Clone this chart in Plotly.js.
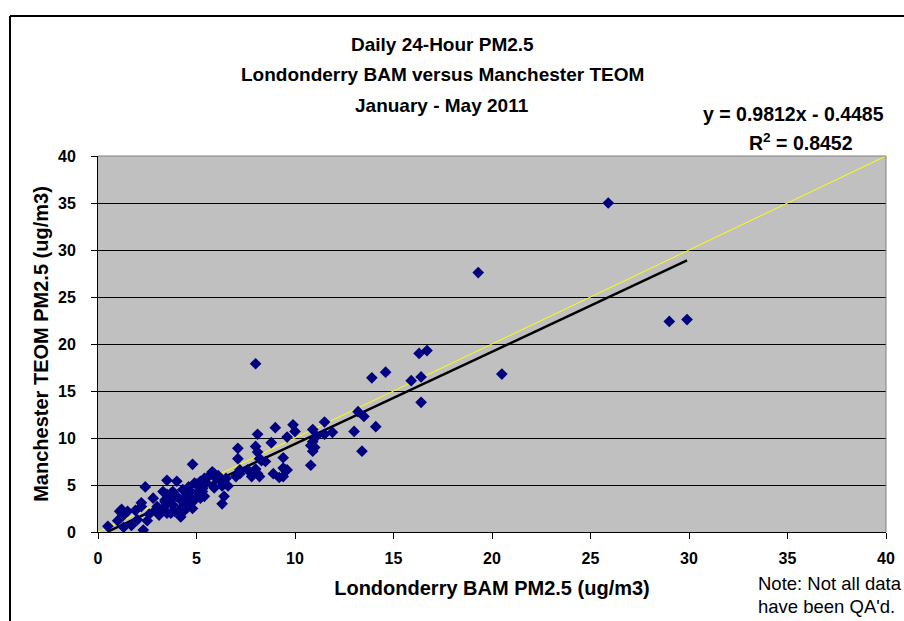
<!DOCTYPE html>
<html>
<head>
<meta charset="utf-8">
<script src="https://cdn.plot.ly/plotly-3.0.1.min.js"></script>
<style>html,body{margin:0;padding:0;background:#fff;}#chart{width:904px;height:621px;}</style>
</head>
<body>
<div id="chart"></div>
<script>
// Londonderry BAM PM2.5 (x) vs Manchester TEOM PM2.5 (y), ug/m3
const bam = [
  25.9,19.3,29.0,29.9,20.5,16.7,16.3,16.4,15.9,16.4,14.6,13.9,14.1,13.5,13.2,13.4,13.0,8.0,
  11.9,11.5,11.5,11.1,10.9,10.9,10.8,11.0,10.9,10.8,9.9,10.0,9.6,9.0,9.4,8.8,9.4,9.6,9.4,9.2,8.9,9.5,
  7.1,7.1,8.1,8.0,8.1,8.2,8.5,8.0,8.1,7.8,8.2,7.6,7.2,7.2,7.0,8.3,
  6.5,6.6,6.3,6.4,5.9,6.0,5.9,5.6,5.4,5.2,5.0,5.3,5.4,5.2,4.8,6.2,6.3,5.9,5.5,5.8,6.1,
  4.8,4.2,4.3,4.2,3.5,3.9,3.4,3.7,3.8,4.7,4.5,4.4,4.1,4.6,4.8,4.9,5.1,5.3,5.3,4.9,4.0,3.5,3.3,3.7,3.8,4.0,4.3,4.6,4.4,3.5,3.4,
  2.4,2.8,2.2,1.9,1.5,1.2,1.1,1.3,1.0,0.5,1.3,1.7,2.5,2.3,2.0,2.6,3.1,3.0,3.4,3.7,2.2,2.9,3.2
];
const teom = [
  35.0,27.6,22.4,22.6,16.8,19.3,19.0,16.5,16.1,13.8,17.0,16.4,11.2,12.3,12.8,8.6,10.7,17.9,
  10.6,11.7,10.4,10.2,10.9,9.6,9.2,9.0,8.6,7.1,11.4,10.7,10.1,11.1,7.9,9.5,6.8,6.6,5.9,5.8,6.2,6.6,
  8.9,7.8,10.4,9.1,8.5,7.8,7.5,6.7,6.2,5.9,5.9,6.6,6.6,6.2,5.9,7.6,
  5.7,4.9,3.0,3.8,4.7,5.7,6.2,5.9,5.7,5.4,5.1,4.3,3.8,3.6,3.4,5.5,4.9,4.8,5.2,6.4,6.0,
  7.2,3.4,2.7,1.6,2.0,2.2,3.4,4.1,4.3,4.3,3.9,2.3,2.2,3.1,2.5,3.4,4.1,4.6,5.2,5.2,5.4,5.5,4.3,3.4,2.9,3.8,4.5,4.8,3.6,4.0,3.2,
  4.8,3.6,2.7,2.3,2.2,2.4,2.2,1.8,1.2,0.6,0.5,0.7,1.2,0.2,1.3,1.9,1.8,2.7,2.7,2.0,3.1,2.3,2.1
];
// Excel linear trendline reported on the chart
const slope = 0.9812;
const intercept = -0.4485;
const axisTicks = [0,5,10,15,20,25,30,35,40];

const xMin = Math.min(...bam), xMax = Math.max(...bam);
const trendX = [xMin, xMax];
const trendY = trendX.map(v => slope * v + intercept);
const oneToOne = [0, 40];

const F = '"Liberation Sans", Arial, sans-serif';
const pxX = p => (p - 98) / 788;
const pxY = p => (532 - p) / 376;

const traces = [
  {x: oneToOne, y: oneToOne, type: 'scatter', mode: 'lines',
   line: {color: '#FFFF00', width: 1}, hoverinfo: 'skip', showlegend: false},
  {x: trendX, y: trendY, type: 'scatter', mode: 'lines',
   line: {color: '#000000', width: 2.5}, showlegend: false},
  {x: bam, y: teom, type: 'scatter', mode: 'markers',
   marker: {symbol: 'diamond', size: 9, color: '#000080', line: {width: 0}}, showlegend: false}
];

const layout = {
  width: 904, height: 621,
  margin: {l: 98, r: 18, t: 156, b: 89},
  paper_bgcolor: '#FFFFFF', plot_bgcolor: '#C0C0C0',
  font: {family: F, color: '#000'},
  showlegend: false,
  xaxis: {
    range: [0, 40], tickvals: axisTicks, ticks: 'outside', ticklen: 6, tickcolor: '#000', tickwidth: 1,
    showline: true, linecolor: '#000', linewidth: 1, showgrid: false, zeroline: false,
    tickfont: {family: F, size: 16, weight: 'bold'}, ticklabelstandoff: 6,
    title: {text: 'Londonderry BAM PM2.5 (ug/m3)', font: {family: F, size: 20, weight: 'bold'}, standoff: 14}
  },
  yaxis: {
    range: [0, 40], tickvals: axisTicks, ticks: 'outside', ticklen: 6, tickcolor: '#000', tickwidth: 1,
    showline: true, linecolor: '#000', linewidth: 1, showgrid: true, gridcolor: '#000', gridwidth: 1, zeroline: false,
    tickfont: {family: F, size: 16, weight: 'bold'}, ticklabelstandoff: 12,
    title: {text: 'Manchester TEOM PM2.5 (ug/m3)', font: {family: F, size: 20, weight: 'bold'}, standoff: 4}
  },
  shapes: [
    {type: 'line', xref: 'paper', yref: 'paper', x0: 0, x1: 1, y0: 1, y1: 1, line: {color: '#808080', width: 1}},
    {type: 'line', xref: 'paper', yref: 'paper', x0: 1, x1: 1, y0: 0, y1: 1, line: {color: '#808080', width: 1}},
    {type: 'line', xref: 'paper', yref: 'paper', x0: pxX(10), x1: pxX(910), y0: pxY(16), y1: pxY(16), line: {color: '#000', width: 2}},
    {type: 'line', xref: 'paper', yref: 'paper', x0: pxX(10), x1: pxX(10), y0: pxY(16), y1: pxY(630), line: {color: '#000', width: 2}}
  ],
  annotations: [
    {text: 'Daily 24-Hour PM2.5', xref: 'paper', yref: 'paper', x: pxX(442), y: pxY(44), showarrow: false, xanchor: 'center', yanchor: 'middle', font: {family: F, size: 19, weight: 'bold'}},
    {text: 'Londonderry BAM versus Manchester TEOM', xref: 'paper', yref: 'paper', x: pxX(442), y: pxY(75), showarrow: false, xanchor: 'center', yanchor: 'middle', font: {family: F, size: 19, weight: 'bold'}},
    {text: 'January - May 2011', xref: 'paper', yref: 'paper', x: pxX(442), y: pxY(106), showarrow: false, xanchor: 'center', yanchor: 'middle', font: {family: F, size: 19, weight: 'bold'}},
    {text: 'y = 0.9812x - 0.4485', xref: 'paper', yref: 'paper', x: pxX(886), y: pxY(114), showarrow: false, xanchor: 'right', yanchor: 'middle', font: {family: F, size: 19.5, weight: 'bold'}},
    {text: 'R<sup>2</sup> = 0.8452', xref: 'paper', yref: 'paper', x: pxX(801), y: pxY(142), showarrow: false, xanchor: 'center', yanchor: 'middle', font: {family: F, size: 19.5, weight: 'bold'}},
    {text: 'Note: Not all data', xref: 'paper', yref: 'paper', x: pxX(756), y: pxY(583), showarrow: false, xanchor: 'left', yanchor: 'middle', font: {family: F, size: 18.5}},
    {text: "have been QA'd.", xref: 'paper', yref: 'paper', x: pxX(756), y: pxY(606), showarrow: false, xanchor: 'left', yanchor: 'middle', font: {family: F, size: 18.5}}
  ]
};

Plotly.newPlot('chart', traces, layout, {staticPlot: true, displayModeBar: false});
</script>
</body>
</html>
